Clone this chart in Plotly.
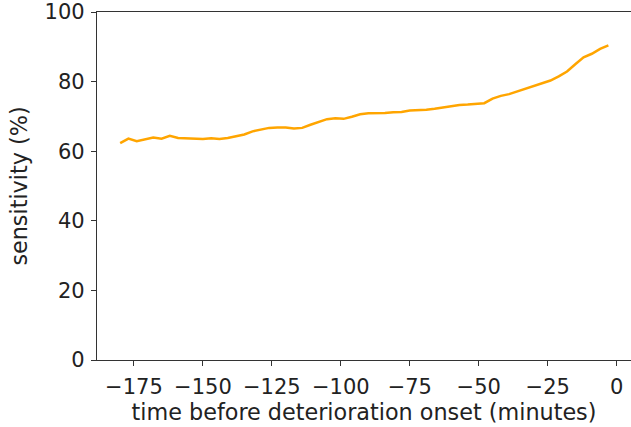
import plotly.graph_objects as go

minutes = [-180, -177, -174, -171, -168, -165, -162, -159, -156, -153,
           -150, -147, -144, -141, -138, -135, -132, -129, -126, -123,
           -120, -117, -114, -111, -108, -105, -102, -99, -96, -93,
           -90, -87, -84, -81, -78, -75, -72, -69, -66, -63,
           -60, -57, -54, -51, -48, -45, -42, -39, -36, -33,
           -30, -27, -24, -21, -18, -15, -12, -9, -6, -3]
sensitivity = [62.3, 63.6, 62.9, 63.3, 63.9, 63.6, 64.4, 63.8, 63.7, 63.5,
               63.5, 63.7, 63.5, 63.8, 64.3, 64.8, 65.7, 66.3, 66.7, 66.8,
               66.8, 66.5, 66.7, 67.6, 68.5, 69.2, 69.5, 69.3, 69.9, 70.6,
               70.9, 70.9, 71.0, 71.2, 71.3, 71.7, 71.7, 71.9, 72.2, 72.6,
               73.0, 73.3, 73.4, 73.5, 73.8, 75.1, 75.9, 76.4, 77.2, 77.9,
               78.6, 79.5, 80.3, 81.5, 82.9, 85.0, 87.0, 88.0, 89.4, 90.4]
x_ticks = [-175, -150, -125, -100, -75, -50, -25, 0]
y_ticks = [0, 20, 40, 60, 80, 100]

fig = go.Figure()
fig.add_trace(go.Scatter(x=minutes, y=sensitivity, mode="lines",
                         line=dict(color="#FFA500", width=2.5), showlegend=False))

font = dict(family="DejaVu Sans", size=21, color="#222222")
tfont = dict(family="DejaVu Sans", size=22.3, color="#222222")
fig.update_layout(
    width=631, height=427,
    margin=dict(l=97, r=0, t=12, b=67),
    paper_bgcolor="white", plot_bgcolor="white",
    font=font,
    xaxis=dict(range=[-188.4, 5.2], tickvals=x_ticks, automargin=False,
               ticktext=[("\u2212" + str(-v)) if v < 0 else str(v) for v in x_ticks],
               showgrid=False, zeroline=False, showline=True, linecolor="#333333",
               linewidth=1.2, mirror=True, ticks="outside", ticklen=5, tickwidth=1,
               tickcolor="#333333", tickfont=font, ticklabelstandoff=3,
               title=dict(text="time before deterioration onset (minutes)", font=tfont, standoff=4)),
    yaxis=dict(range=[0, 100], tickvals=y_ticks, showgrid=False, zeroline=False, automargin=False,
               showline=True, linecolor="#333333", linewidth=1.2, ticks="outside",
               ticklen=5, tickwidth=1, tickcolor="#333333", tickfont=font, ticklabelstandoff=2,
               title=dict(text="sensitivity (%)", font=tfont, standoff=10)),
)
fig.write_html("out.html", config={"displayModeBar": False},
               post_script="document.body.style.margin='0';")
